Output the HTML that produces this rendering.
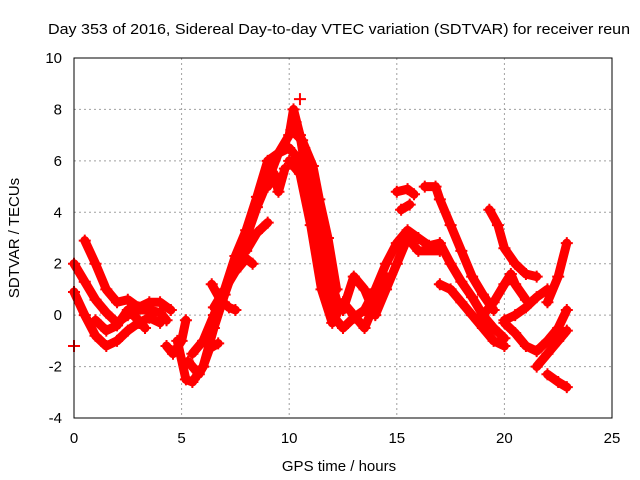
<!DOCTYPE html>
<html><head><meta charset="utf-8"><style>
html,body{margin:0;padding:0;background:#fff;}
svg{display:block;font-family:"Liberation Sans",sans-serif;}
</style></head><body>
<svg id="chart" width="640" height="480" viewBox="0 0 640 480">
<rect width="640" height="480" fill="#fff"/>
<text x="48" y="34" font-size="15" textLength="582" lengthAdjust="spacingAndGlyphs" fill="#000">Day 353 of 2016, Sidereal Day-to-day VTEC variation (SDTVAR) for receiver reun</text>
<g id="grid"></g>
<g id="series"></g>
<rect x="74" y="58" width="538" height="360" fill="none" stroke="#000" stroke-width="1"/>
<g id="ticks"></g>
<text transform="translate(19,238) rotate(-90)" text-anchor="middle" font-size="15">SDTVAR / TECUs</text>
<text x="339" y="471" text-anchor="middle" font-size="15">GPS time / hours</text>
</svg>
<script>
const xTicks=[0,5,10,15,20,25];
const yTicks=[-4,-2,0,2,4,6,8,10];
const tracks=[
[[0,2.0],[0.5,1.3],[1,0.6],[1.5,0.1],[2,-0.3],[2.5,0],[3,0.2],[3.5,0.2],[4,0.1],[4.3,-0.2]],
[[0,0.9],[0.5,0],[1,-0.8],[1.5,-1.2],[2,-1.0],[2.5,-0.6],[3,-0.3],[3.5,-0.1],[4,-0.3]],
[[0.5,2.9],[1,2.0],[1.5,1.0],[2,0.5],[2.5,0.6],[3,0.3],[3.5,0.5],[4,0.5],[4.5,0.2]],
[[1,-0.2],[1.5,-0.6],[2,-0.4],[2.5,0.2],[3,-0.2],[3.3,-0.5]],
[[4.8,-1.0],[5.2,-2.5],[5.5,-2.6],[6,-2.0],[6.5,-0.5],[7,0.8],[7.5,2.0],[8,3.0],[8.5,4.2],[9,5.2],[9.5,6.3],[10,7.0],[10.2,8.0],[10.5,7.0],[11,4.5],[11.5,2.0],[12,0.0],[12.5,-0.5],[13,-0.1],[13.5,0.2],[14,1.0],[14.5,2.0],[15,2.8],[15.5,3.3],[16,3.0],[16.5,2.7],[17,2.8],[17.5,2.0],[18,1.3],[18.5,0.7],[19,0],[19.5,-0.5],[20,-0.9]],
[[5.5,-1.5],[6,-1.0],[6.5,0],[7,1.0],[7.5,2.3],[8,3.3],[8.5,4.6],[9,6.0],[9.5,6.3],[10,6.5],[10.5,6.0],[11,5.0],[11.5,3.0],[12,0.8],[12.5,0.2],[13,1.5],[13.5,1.0],[14,0],[14.5,1.0],[15,2.0],[15.5,3.0],[16,2.5],[17,2.5]],
[[10,6.0],[10.5,5.5],[11,3.5],[11.5,1.0],[12,-0.3],[12.5,0.5],[13,0],[13.5,-0.5],[14,0.5],[14.5,1.5]],
[[10.3,7.5],[10.7,6.5],[11,5.5],[11.3,4.0],[11.6,2.5],[12,1.2],[12.3,0.3]],
[[10.1,7.2],[10.6,6.8],[11.1,5.8],[11.4,4.5],[11.8,3.0],[12.2,1.0]],
[[6.5,0.3],[7,1.0],[7.5,1.7],[8,2.2],[8.3,2.0]],
[[6.4,1.2],[6.8,0.6],[7.2,0.3],[7.5,0.2]],
[[8,2.5],[8.5,3.2],[9,3.6]],
[[9,5.0],[9.3,5.5],[9.5,4.8],[9.8,5.7]],
[[4.3,-1.2],[4.6,-1.5],[5,-1.0],[5.2,-0.2]],
[[5.3,-1.8],[5.8,-2.3],[6,-2.0],[6.3,-1.3],[6.7,-1.1]],
[[15,4.8],[15.5,4.9],[15.8,4.7]],
[[15.2,4.1],[15.6,4.3]],
[[16.3,5.0],[16.8,5.0],[17,4.5],[17.5,3.5],[18,2.5],[18.5,1.5],[19,0.8],[19.5,0.2]],
[[17,1.2],[17.5,1.0],[18,0.5],[18.5,0],[19,-0.5],[19.5,-1.0],[20,-1.2]],
[[19.3,4.1],[19.7,3.5],[20,2.6],[20.5,2.0],[21,1.6],[21.5,1.5]],
[[19,0],[19.5,0.5],[20,1.2],[20.3,1.6],[20.5,1.2],[21,0.6]],
[[20,-0.2],[20.5,0],[21,0.3],[21.5,0.7],[22,1.0]],
[[20,-0.3],[20.5,-0.7],[21,-1.2],[21.5,-1.4],[22,-1.0],[22.5,-0.5],[22.9,0.2]],
[[22,0.5],[22.5,1.5],[22.9,2.8]],
[[21.5,-2.0],[22,-1.5],[22.5,-1.0],[22.9,-0.6]],
[[22,-2.3],[22.5,-2.6],[22.9,-2.8]],
[[0,-1.2]],[[10.5,8.4]]
];
const NS='http://www.w3.org/2000/svg';
const X0=74,X1=612,Y0=418,Y1=58;
function xs(h){return X0+(h-0)/(25-0)*(X1-X0);}
function ys(v){return Y0-(v-(-4))/(10-(-4))*(Y0-Y1);}
const grid=document.getElementById('grid'),ticks=document.getElementById('ticks'),ser=document.getElementById('series');
xTicks.forEach(t=>{
 const x=xs(t);
 if(t>0&&t<25){const l=document.createElementNS(NS,'line');
 
 
 l.setAttribute('x1',x);l.setAttribute('x2',x);l.setAttribute('y1',Y1);l.setAttribute('y2',Y0);
 l.setAttribute('stroke','#a0a0a0');l.setAttribute('stroke-dasharray','2,3');grid.appendChild(l);}
 const tx=document.createElementNS(NS,'text');
 
 
 tx.setAttribute('x',x);tx.setAttribute('y',443);tx.setAttribute('text-anchor','middle');tx.setAttribute('font-size','15');
 tx.textContent=t;ticks.appendChild(tx);
});
yTicks.forEach(t=>{
 const y=ys(t);
 if(t>-4&&t<10){const l=document.createElementNS(NS,'line');
 
 
 l.setAttribute('x1',X0);l.setAttribute('x2',X1);l.setAttribute('y1',y);l.setAttribute('y2',y);
 l.setAttribute('stroke','#a0a0a0');l.setAttribute('stroke-dasharray','2,3');grid.appendChild(l);}
 const tx=document.createElementNS(NS,'text');
 
 
 tx.setAttribute('x',62);tx.setAttribute('y',y+5);tx.setAttribute('text-anchor','end');tx.setAttribute('font-size','15');
 tx.textContent=t;ticks.appendChild(tx);
});
tracks.forEach((tr)=>{
 if(tr.length>1){
  const p=document.createElementNS(NS,'polyline');
  
  
  p.setAttribute('points',tr.map(d=>xs(d[0])+','+ys(d[1])).join(' '));
  p.setAttribute('fill','none');p.setAttribute('stroke','#ff0000');p.setAttribute('stroke-width','9');
  p.setAttribute('stroke-linejoin','round');p.setAttribute('stroke-linecap','round');
  ser.appendChild(p);
 }
 tr.forEach(d=>{
  const x=xs(d[0]),y=ys(d[1]);
  const m=document.createElementNS(NS,'path');
  
  
  m.setAttribute('d','M'+(x-6)+','+y+'H'+(x+6)+'M'+x+','+(y-6)+'V'+(y+6));
  m.setAttribute('stroke','#ff0000');m.setAttribute('stroke-width','2');
  ser.appendChild(m);
 });
});
</script>
</body></html>
